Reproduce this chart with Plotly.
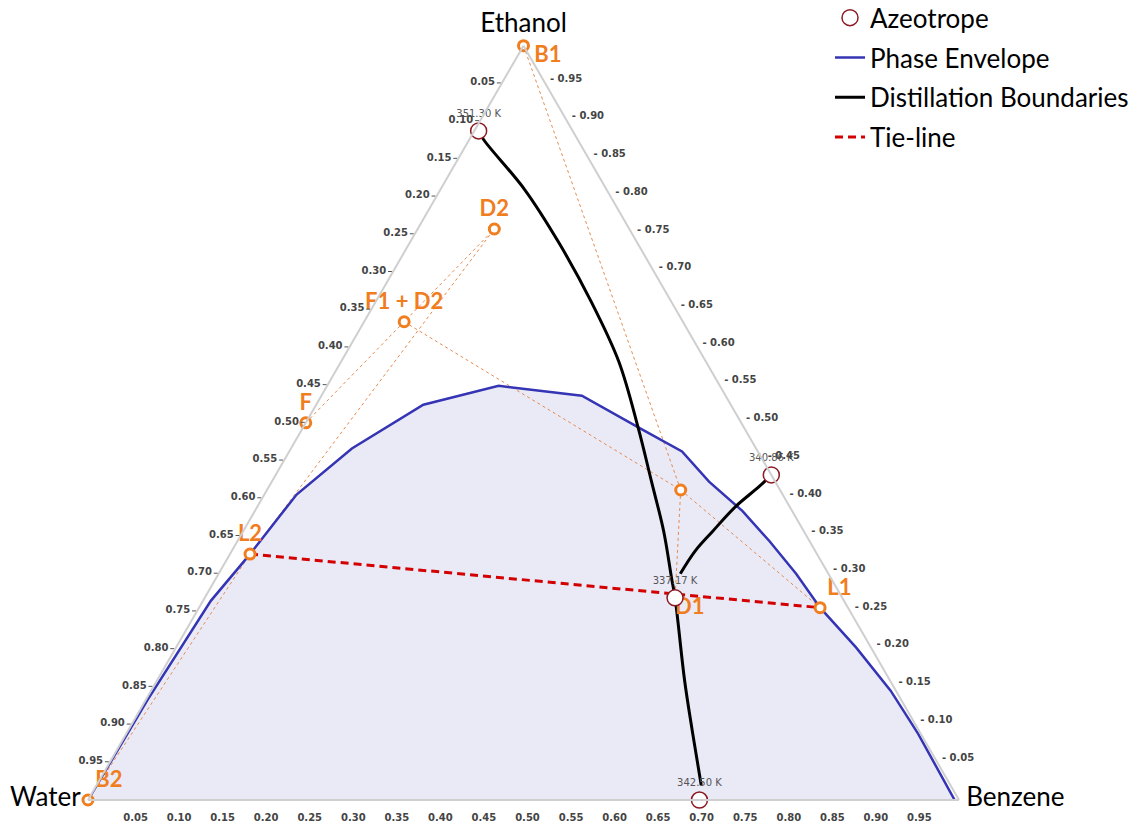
import plotly.graph_objects as go

# ---------------- data (mole fractions: Ethanol, Water, Benzene) ----------------
# Phase envelope (binodal curve)
env_ethanol = [0.000, 0.132, 0.264, 0.326, 0.405, 0.466, 0.524, 0.549, 0.536, 0.491,
               0.462, 0.422, 0.383, 0.343, 0.300, 0.255, 0.202, 0.145, 0.088, 0.000]
env_water = [1.000, 0.866, 0.727, 0.651, 0.558, 0.464, 0.353, 0.254, 0.165, 0.118,
             0.087, 0.076, 0.057, 0.046, 0.037, 0.032, 0.017, 0.006, 0.003, 0.005]
env_benzene = [0.000, 0.002, 0.009, 0.023, 0.037, 0.070, 0.123, 0.197, 0.299, 0.391,
               0.451, 0.502, 0.560, 0.611, 0.663, 0.713, 0.781, 0.849, 0.909, 0.995]

# Distillation boundary 1 (ethanol-water azeotrope -> ternary azeotrope -> water-benzene azeotrope)
bnd1_ethanol = [0.887, 0.875, 0.809, 0.739, 0.660, 0.581, 0.492, 0.422, 0.356, 0.294, 0.268, 0.158, 0.090, 0.020]
bnd1_water = [0.108, 0.108, 0.094, 0.090, 0.092, 0.100, 0.122, 0.142, 0.161, 0.183, 0.192, 0.236, 0.261, 0.286]
bnd1_benzene = [0.005, 0.017, 0.097, 0.171, 0.248, 0.319, 0.386, 0.436, 0.483, 0.523, 0.540, 0.606, 0.649, 0.694]

# Distillation boundary 2 (ethanol-benzene azeotrope -> ternary azeotrope)
bnd2_ethanol = [0.431, 0.416, 0.389, 0.356, 0.330, 0.300]
bnd2_water = [0.000, 0.021, 0.062, 0.105, 0.138, 0.170]
bnd2_benzene = [0.569, 0.563, 0.549, 0.539, 0.532, 0.530]

# Azeotropes
azeo_labels = ["351.30 K", "340.86 K", "337.17 K", "342.50 K"]
azeo_ethanol = [0.887, 0.431, 0.268, 0.000]
azeo_water = [0.108, 0.000, 0.192, 0.298]
azeo_benzene = [0.005, 0.569, 0.540, 0.702]

# Process streams
stream_keys = ["B1", "B2", "D2", "F1 + D2", "F", "L2", "L1", "M"]
stream_labels = ["B1", "B2", "D2", "F1 + D2", "F", "L2", "L1", ""]
stream_ethanol = [1.000, 0.000, 0.757, 0.634, 0.500, 0.326, 0.255, 0.411]
stream_water = [0.000, 1.000, 0.155, 0.320, 0.500, 0.651, 0.032, 0.114]
stream_benzene = [0.000, 0.000, 0.088, 0.046, 0.000, 0.023, 0.713, 0.475]

# Ternary azeotrope = distillate D1
d1_label = "D1"
d1_ethanol = 0.268
d1_water = 0.192
d1_benzene = 0.540

# Mass-balance construction lines (pairs of stream keys)
construction_pairs = [("F", "D2"), ("B2", "L2"), ("L2", "D2"), ("B1", "M"),
                      ("M", "D1"), ("F1 + D2", "M"), ("M", "L1")]

# Tie-line end points
tie_keys = ["L2", "L1"]

# Vertex names
vertex_names = ["Ethanol", "Water", "Benzene"]
vertex_ethanol = [1, 0, 0]
vertex_water = [0, 1, 0]
vertex_benzene = [0, 0, 1]

# Edge tick labels (fraction of the component at the far vertex of each edge)
tick_labels = ["0.05", "0.10", "0.15", "0.20", "0.25", "0.30", "0.35", "0.40", "0.45", "0.50",
               "0.55", "0.60", "0.65", "0.70", "0.75", "0.80", "0.85", "0.90", "0.95"]

# ---------------- figure ----------------
ORANGE = "#f07d1e"
NBSP = "\u00a0"
pts = {k: (e, w, b) for k, e, w, b in zip(stream_keys, stream_ethanol, stream_water, stream_benzene)}
pts["D1"] = (d1_ethanol, d1_water, d1_benzene)

# label placement (style only)
label_pos = {"B2": "top right", "D2": "top center", "F1 + D2": "top center", "F": "top center",
             "L2": "top center", "L1": "top right", "M": "top center"}
free_labels = {"B1": ("bottom right", NBSP * 2), "D1": ("bottom right", "")}

fig = go.Figure()

# envelope fill
fig.add_trace(go.Scatterternary(
    a=env_ethanol, b=env_water, c=env_benzene, mode="lines", fill="toself",
    fillcolor="rgba(200,200,235,0.38)", line=dict(color="rgba(150,150,210,0.6)", width=1),
    showlegend=False, hoverinfo="skip"))

# construction lines
ca, cb, cc = [], [], []
for p, q in construction_pairs:
    for k in (p, q):
        ca.append(pts[k][0]); cb.append(pts[k][1]); cc.append(pts[k][2])
    ca.append(None); cb.append(None); cc.append(None)
fig.add_trace(go.Scatterternary(
    a=ca, b=cb, c=cc, mode="lines", line=dict(color="#e58a4e", width=1, dash="dot"),
    showlegend=False, hoverinfo="skip"))

# phase envelope line
fig.add_trace(go.Scatterternary(
    a=env_ethanol, b=env_water, c=env_benzene, mode="lines", name="Phase Envelope",
    legendgroup="env", line=dict(color="#3434b4", width=2.5), legendrank=2))

# tie-line
fig.add_trace(go.Scatterternary(
    a=[pts[k][0] for k in tie_keys], b=[pts[k][1] for k in tie_keys], c=[pts[k][2] for k in tie_keys],
    mode="lines", name="Tie-line", legendgroup="tie",
    line=dict(color="#d40000", width=3, dash="8px,5px"), legendrank=4))

# distillation boundaries
fig.add_trace(go.Scatterternary(
    a=bnd1_ethanol, b=bnd1_water, c=bnd1_benzene, mode="lines", name="Distillation Boundaries",
    legendgroup="bnd", line=dict(color="black", width=3, shape="spline"), legendrank=3))
fig.add_trace(go.Scatterternary(
    a=bnd2_ethanol, b=bnd2_water, c=bnd2_benzene, mode="lines", name="Distillation Boundaries",
    legendgroup="bnd", showlegend=False, line=dict(color="black", width=3, shape="spline")))

# streams (markers + attached labels)
label_font = dict(family="Lato", size=22, color=ORANGE, weight="bold")
fig.add_trace(go.Scatterternary(
    a=stream_ethanol, b=stream_water, c=stream_benzene, mode="markers+text",
    text=["" if k in free_labels else t for k, t in zip(stream_keys, stream_labels)],
    textposition=[label_pos.get(k, "top center") for k in stream_keys],
    textfont=label_font,
    marker=dict(size=10, color="white", line=dict(color=ORANGE, width=3)),
    showlegend=False, cliponaxis=False))

# labels placed directly at their points (B1 and D1)
free_keys = list(free_labels)
free_text = {"B1": stream_labels[stream_keys.index("B1")], "D1": d1_label}
fig.add_trace(go.Scatterternary(
    a=[pts[k][0] for k in free_keys], b=[pts[k][1] for k in free_keys], c=[pts[k][2] for k in free_keys],
    mode="text", text=[free_labels[k][1] + free_text[k] for k in free_keys],
    textposition=[free_labels[k][0] for k in free_keys],
    textfont=label_font, showlegend=False, cliponaxis=False, hoverinfo="skip"))

# azeotropes
fig.add_trace(go.Scatterternary(
    a=azeo_ethanol, b=azeo_water, c=azeo_benzene, mode="markers+text", name="Azeotrope",
    legendgroup="azeo", text=azeo_labels, textposition="top center",
    textfont=dict(family="DejaVu Sans", size=10, color="#555555"),
    marker=dict(size=16, color="white", line=dict(color="#8b1a22", width=1.5)),
    cliponaxis=False, legendrank=1))

# vertex titles
fig.add_trace(go.Scatterternary(
    a=vertex_ethanol, b=vertex_water, c=vertex_benzene, mode="markers+text",
    text=vertex_names, textposition=["top center", "middle left", "middle right"],
    textfont=dict(family="Lato", size=26, color="black"),
    marker=dict(size=10, opacity=0), showlegend=False, cliponaxis=False, hoverinfo="skip"))

tick_pos = [1 - float(t) for t in tick_labels]
tick_font = dict(family="DejaVu Sans", size=10, color="#444444", weight="bold")
common = dict(min=0, showgrid=False, showline=True, linecolor="#cfcfcf", linewidth=2,
              tickmode="array", tickvals=tick_pos, tickfont=tick_font, title=dict(text=""))
aaxis = dict(common, ticks="outside", ticklen=4, tickwidth=1, tickcolor="#555555",
             ticktext=tick_labels)
baxis = dict(common, ticks="outside", ticklen=8, tickcolor="rgba(0,0,0,0)",
             ticktext=tick_labels)
caxis = dict(common, ticks="outside", ticklen=4, tickcolor="rgba(0,0,0,0)",
             ticktext=["- " + t for t in tick_labels])

W, H = 1142, 825
tri_left, tri_right, tri_bottom = 88.0, 959.0, 800.0
tri_top = tri_bottom - (tri_right - tri_left) * 3 ** 0.5 / 2

fig.update_layout(
    width=W, height=H,
    margin=dict(l=0, r=0, t=0, b=0, autoexpand=False),
    paper_bgcolor="white",
    ternary=dict(
        sum=1,
        domain=dict(x=[tri_left / W, tri_right / W], y=[(H - tri_bottom) / H, (H - tri_top) / H]),
        bgcolor="white",
        aaxis=aaxis, baxis=baxis, caxis=caxis),
    legend=dict(x=830 / W, y=1.007, xanchor="left", yanchor="top",
                font=dict(family="Lato", size=26, color="black"),
                bgcolor="rgba(0,0,0,0)", tracegroupgap=3),
    showlegend=True,
)

fig.write_html("out.html", config={"displayModeBar": False},
               post_script="document.body.style.margin='0';")
